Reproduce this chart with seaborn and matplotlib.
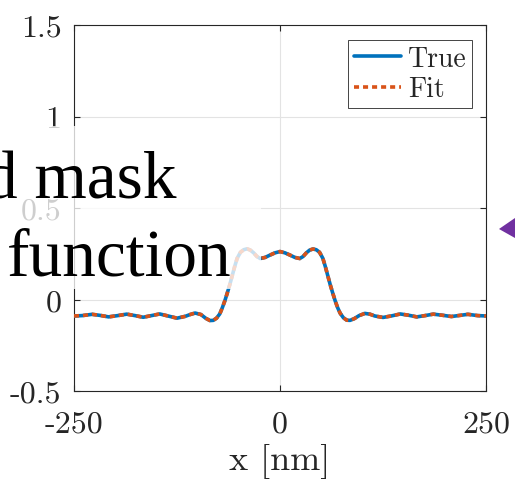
import matplotlib
matplotlib.use("Agg")
import matplotlib.pyplot as plt
import seaborn as sns
import pandas as pd
from matplotlib.patches import Rectangle, Polygon
from matplotlib.lines import Line2D

# ---- data ----
x_nm = [-250, -240, -228, -218, -208, -197, -186, -176, -166, -156, -146, -135,
        -125, -115, -109, -103, -96, -90, -85, -81, -77, -73, -70, -67, -64,
        -61, -58, -55, -52, -48, -44, -40, -36, -32, -28, -24, -18, -12, -6,
        0, 6, 12, 18, 24, 28, 32, 36, 40, 44, 48, 52, 55, 58, 61, 64, 67, 70,
        73, 77, 81, 85, 90, 96, 103, 109, 115, 125, 135, 146, 156, 166, 176,
        186, 197, 208, 218, 228, 240, 250]
y_true = [-0.090, -0.088, -0.081, -0.087, -0.095, -0.088, -0.080, -0.088, -0.097,
          -0.088, -0.079, -0.091, -0.102, -0.092, -0.082, -0.074, -0.082, -0.103,
          -0.115, -0.114, -0.102, -0.078, -0.045, -0.008, 0.035, 0.080, 0.130,
          0.180, 0.225, 0.258, 0.272, 0.277, 0.270, 0.255, 0.235, 0.224, 0.230,
          0.243, 0.255, 0.262, 0.255, 0.243, 0.230, 0.224, 0.235, 0.255, 0.270,
          0.276, 0.272, 0.258, 0.225, 0.180, 0.130, 0.080, 0.035, -0.008, -0.045,
          -0.075, -0.100, -0.113, -0.114, -0.105, -0.088, -0.076, -0.080, -0.090,
          -0.098, -0.090, -0.079, -0.086, -0.095, -0.088, -0.080, -0.086, -0.093,
          -0.087, -0.081, -0.088, -0.090]
y_fit = list(y_true)

series_labels = ["True", "Fit"]
x_ticks = [-250, 0, 250]
x_ticklabels = ["-250", "0", "250"]
y_ticks = [-0.5, 0, 0.5, 1, 1.5]
y_ticklabels = ["-0.5", "0", "0.5", "1", "1.5"]
x_label = "x [nm]"
overlay_lines = ["d mask", "function"]

sns.set_theme(style="white")
plt.rcParams["font.family"] = ["cmr10", "DejaVu Serif"]
plt.rcParams["axes.unicode_minus"] = False

W, H = 515, 485
fig = plt.figure(figsize=(W / 100, H / 100), dpi=100)
ax = fig.add_axes([74 / W, (H - 392) / H, 412 / W, 366 / H])

df = pd.DataFrame({"x": x_nm, "true": y_true, "fit": y_fit})
blue = "#0072BD"
orange = "#D95319"
LW = 2.6
DASH = (1.4, 1.1)
sns.lineplot(data=df, x="x", y="true", ax=ax, color=blue, lw=LW, zorder=3)
sns.lineplot(data=df, x="x", y="fit", ax=ax, color=orange, lw=LW, zorder=4)
ax.lines[1].set_dashes(DASH)
ax.lines[1].set_dash_capstyle("butt")

ax.set_xlim(-250, 250)
ax.set_ylim(-0.5, 1.5)
ax.set_xticks(x_ticks)
ax.set_xticklabels(x_ticklabels)
ax.set_yticks(y_ticks)
ax.set_yticklabels(y_ticklabels)
ax.set_xlabel(x_label, fontsize=26, labelpad=4, color="#262626")
ax.set_ylabel("")
ax.grid(True, color="#e3e3e3", lw=0.8)
ax.set_axisbelow(True)
for s in ax.spines.values():
    s.set_color("#262626")
    s.set_linewidth(0.8)
ax.tick_params(axis="both", which="both", direction="in", length=4, width=0.8,
               color="#262626", labelsize=23, labelcolor="#262626",
               top=True, right=True, bottom=True, left=True)
ax.tick_params(axis="x", pad=14)
ax.tick_params(axis="y", pad=9)

handles = [Line2D([], [], color=blue, lw=LW),
           Line2D([], [], color=orange, lw=LW, dashes=DASH, dash_capstyle="butt")]
leg = ax.legend(handles, series_labels, loc="upper right",
                bbox_to_anchor=((472 - 74) / 412, (392 - 41) / 366),
                borderaxespad=0, fontsize=20, handlelength=1.7,
                handletextpad=0.25, labelspacing=0.15, borderpad=0.2,
                fancybox=False, framealpha=1, edgecolor="#262626")
leg.get_frame().set_linewidth(0.6)

# translucent white box behind the overlay text
fig.patches.append(Rectangle((0, (H - 290) / H), 261 / W, 163 / H,
                             transform=fig.transFigure, facecolor="white",
                             alpha=0.78, edgecolor="none", zorder=10))
fig.text(177 / W, (H - 199) / H, overlay_lines[0], ha="right", va="baseline",
         fontsize=48.5, family="Liberation Serif", color="black", zorder=11)
fig.text(7 / W, (H - 276) / H, overlay_lines[1], ha="left", va="baseline",
         fontsize=48.5, family="Liberation Serif", color="black", zorder=11)

# cropped purple arrow head at the right edge
fig.patches.append(Polygon([(499 / W, (H - 230) / H), (515 / W, (H - 219) / H),
                            (515 / W, (H - 239) / H)], closed=True,
                           transform=fig.transFigure, facecolor="#7030A0",
                           edgecolor="none", zorder=10))

fig.savefig("out.png", dpi=100)
